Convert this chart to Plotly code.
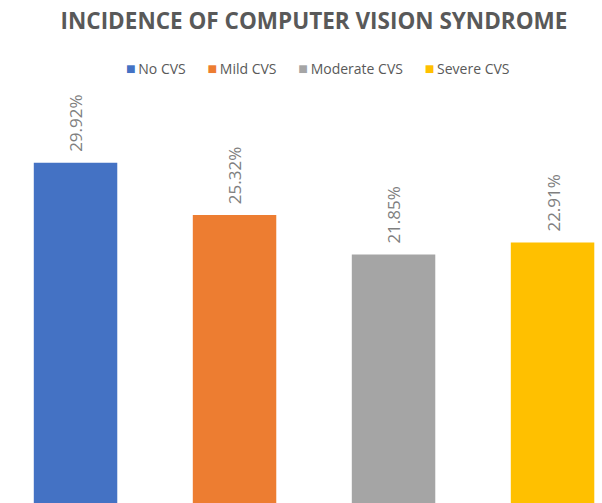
import plotly.graph_objects as go

categories = ["No CVS", "Mild CVS", "Moderate CVS", "Severe CVS"]
values = [29.92, 25.32, 21.85, 22.91]
labels = ["29.92%", "25.32%", "21.85%", "22.91%"]
colors = ["#4472C4", "#ED7D31", "#A5A5A5", "#FFC000"]
positions = [0, 1, 2, 3]

fig = go.Figure()
for pos, cat, val, col in zip(positions, categories, values, colors):
    fig.add_trace(go.Bar(x=[pos], y=[val], name=cat, marker=dict(color=col, line=dict(width=0)),
                         width=0.525, hoverinfo="skip", showlegend=False))

for pos, val, lab in zip(positions, values, labels):
    fig.add_annotation(x=pos, y=val, text=lab, textangle=-90, showarrow=False,
                       xanchor="center", yanchor="bottom", yshift=9,
                       font=dict(family="Open Sans", size=17, color="#7F7F7F"))

# legend row (colored squares + category names)
sep = "&nbsp;" * 6
legend_text = sep.join(
    f'<span style="color:{col}; font-size:16px">■</span><span style="font-size:10px">&nbsp;</span>{cat}'
    for cat, col in zip(categories, colors)
)
fig.add_annotation(xref="paper", yref="paper", x=0.528, y=1 - 68 / 503,
                   xanchor="center", yanchor="middle", showarrow=False,
                   text=legend_text,
                   font=dict(family="Open Sans", size=14, color="#595959"))

fig.update_layout(
    width=602, height=503,
    margin=dict(l=0, r=0, t=0, b=0),
    paper_bgcolor="white", plot_bgcolor="white",
    barmode="overlay",
    showlegend=False,
    title=dict(text='<b>INCIDENCE OF COMPUTER VISION SYNDROME</b>',
               x=0.5216, xanchor="center", y=1 - 21 / 503, yanchor="middle",
               font=dict(family="Open Sans", size=22.5, color="#595959")),
    xaxis=dict(range=[-0.475, 3.311], visible=False, fixedrange=True),
    yaxis=dict(range=[0, 44.24], visible=False, fixedrange=True),
)

fig.write_html("out.html")
